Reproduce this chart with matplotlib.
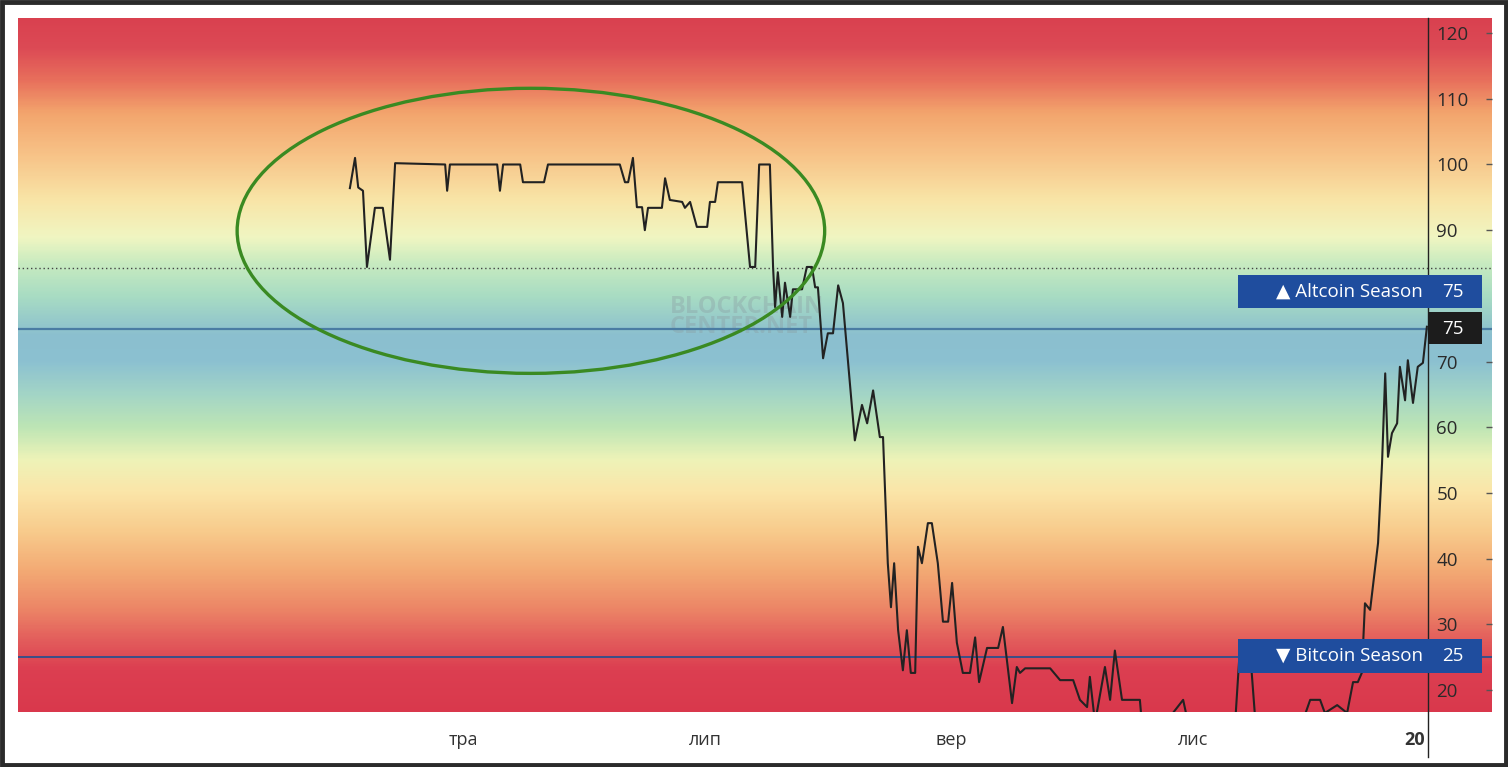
import numpy as np
import matplotlib
matplotlib.use("Agg")
import matplotlib.pyplot as plt
import matplotlib.dates as mdates
from matplotlib.colors import LinearSegmentedColormap
from matplotlib.patches import Ellipse, Rectangle
import datetime as dt

plt.rcParams['font.family'] = ['Open Sans', 'DejaVu Sans']

base = dt.datetime(2019, 5, 1)
# day offsets from 2019-05-01 and index values
days = [-28.5, -27.2, -26.4, -25.2, -24.2, -22.2, -20.2, -18.4, -17.1, -4.5, -4, -3.3, 8.6, 9.3, 10.1,
        14.4, 15.1, 20.4, 21.4, 39.5, 40.8, 41.6, 42.8, 43.8, 45.1, 45.8, 46.6, 50.1, 50.9, 52.1, 55.2,
        55.9, 57.2, 58.9, 61.5, 62.2, 63.5, 64.2, 70.3, 72.3, 73.6, 74.6, 77.3, 78.1, 78.6, 79.3, 80.4,
        81.1, 82.4, 83.1, 85.4, 86.6, 87.9, 88.7, 89.4, 90.7, 91.9, 93.2, 94.5, 95.7, 97, 98.7, 100.5,
        101.8, 103.3, 105, 105.8, 107, 107.8, 108.6, 109.6, 110.8, 111.8, 112.8, 113.9, 114.6, 115.6,
        117.1, 118.1, 119.6, 120.9, 122.2, 123.2, 124.4, 125.9, 127.7, 129, 130, 132, 134.8, 136, 138.3,
        139.5, 140.3, 141.6, 147.9, 150.4, 153.7, 155.4, 157.2, 157.9, 159.2, 161.7, 163, 164.2, 166,
        170.5, 171, 175.6, 181.4, 183, 194.5, 195.7, 198.2, 199.5, 202, 210.8, 213.4, 215.9, 217.1,
        220.2, 222.7, 224.2, 225.4, 226.4, 227.2, 228.5, 230.5, 231.5, 232.3, 233, 234, 235.3, 236,
        237.3, 238, 239.3, 240.5, 241.8, 242.8]
values = [96.4, 101, 96.5, 96, 84.4, 93.4, 93.4, 85.5, 100.2, 100, 96, 100, 100, 96, 100,
          100, 97.3, 97.3, 100, 100, 97.3, 97.3, 101, 93.5, 93.5, 90, 93.4, 93.4, 97.9, 94.6, 94.3,
          93.4, 94.3, 90.5, 90.5, 94.3, 94.3, 97.3, 97.3, 84.4, 84.4, 100, 100, 84.4, 78.3, 83.6, 76.8,
          82, 76.8, 81, 81, 84.4, 84.4, 81.3, 81.3, 70.5, 74.3, 74.3, 81.6, 78.9, 69.8, 58, 63.4,
          60.6, 65.6, 58.5, 58.5, 39.3, 32.6, 39.3, 29.1, 23, 29.1, 22.6, 22.6, 41.8, 39.3,
          45.4, 45.4, 39.3, 30.4, 30.4, 36.3, 27.2, 22.6, 22.6, 28, 21.2, 26.4, 26.4, 29.6, 18,
          23.5, 22.6, 23.3, 23.3, 21.5, 21.5, 18.5, 17.4, 22, 15, 23.5, 18.5, 26, 18.5,
          18.5, 15, 14, 18.5, 14, 15, 26.4, 26.4, 16, 14, 14, 18.5, 18.5, 16.5,
          17.7, 16.5, 21.2, 21.2, 22.6, 33.2, 32.2, 42.4, 54.5, 68.2, 55.5, 59.1, 60.6, 69.2,
          64.1, 70.2, 63.7, 69.2, 69.8, 75.3]
month_days = [0, 61, 123, 184, 239.8]
month_labels = ['тра', 'лип', 'вер', 'лис', '20']
yticks = [20, 30, 40, 50, 60, 70, 90, 100, 110, 120]

dates = [base + dt.timedelta(days=d) for d in days]
W, H = 1508, 767
fig = plt.figure(figsize=(W/100, H/100), dpi=100)
fig.patch.set_facecolor('white')
ax = fig.add_axes([18/W, 55/H, 1474/W, 694/H])

ylo, yhi = 16.65, 122.3
x0 = mdates.date2num(base + dt.timedelta(days=-112.1))
x1 = mdates.date2num(base + dt.timedelta(days=259.2))

stops = [(16, '#d9384c'), (23, '#dc3f51'), (27, '#e25a5b'), (32, '#ec8466'), (38, '#f3aa74'),
         (44, '#f8cb8c'), (50, '#fbe5a8'), (55, '#eef3b8'), (60, '#bde5b5'), (65, '#a3d5c6'),
         (70, '#8cc1d1'), (74, '#8bbfcf'), (80, '#a8dcc3'), (85, '#c8ebc0'), (89, '#f0f6c2'),
         (95, '#f9e4a6'), (102, '#f7c186'), (108, '#f3a56d'), (113, '#e8705c'), (118, '#dc4a55'),
         (123, '#d9404f')]
cmap = LinearSegmentedColormap.from_list('bg', [((v-16)/(123-16), c) for v, c in stops])
grad = np.linspace(16, 123, 600).reshape(-1, 1)
ax.imshow(grad, cmap=cmap, vmin=16, vmax=123, aspect='auto', origin='lower',
          extent=[x0, x1, 16, 123], interpolation='bicubic', zorder=0)

ax.axhline(75, color='#4a7ca3', lw=1.6, zorder=2)
ax.axhline(25, color='#2e4f8c', lw=1.3, zorder=2)
ax.axhline(84.2, color='#444444', lw=1.0, ls=(0, (1, 2)), zorder=2)

ax.text(mdates.date2num(base + dt.timedelta(days=52)), 76.8, 'BLOCKCHAIN\nCENTER.NET',
        fontsize=17, color='#8a9aa0', alpha=0.35, fontweight='bold', ha='left', va='center',
        linespacing=0.8, zorder=1)

ax.plot(dates, values, color='#222222', lw=1.5, zorder=3)

ell = Ellipse((mdates.date2num(base + dt.timedelta(days=17.1)), 89.9), 148, 43.4,
              fill=False, edgecolor='#3a8a22', lw=2.4, zorder=4)
ax.add_patch(ell)

xv = mdates.date2num(base + dt.timedelta(days=243.1))
ax.axvline(xv, color='#222222', lw=1.0, zorder=5, clip_on=False, ymin=-0.065, ymax=1)

ax.set_xlim(x0, x1)
ax.set_ylim(ylo, yhi)
ax.set_xticks([mdates.date2num(base + dt.timedelta(days=d)) for d in month_days])
ax.set_xticklabels(month_labels, fontsize=13, color='#333333')
ax.get_xticklabels()[-1].set_fontweight('bold')
ax.tick_params(axis='x', length=0, pad=14)
ax.yaxis.tick_right()
ax.set_yticks(yticks)
ax.set_yticklabels([str(t) for t in yticks], fontsize=13.5, color='#2a2a2a')
ax.tick_params(axis='y', direction='in', length=4, color='#555555', pad=-40, width=1)
for lab in ax.get_yticklabels():
    lab.set_horizontalalignment('left')
for s in ax.spines.values():
    s.set_visible(False)

tr = ax.get_yaxis_transform()
ax.add_patch(Rectangle((1238/1474 - 18/1474, 78.1), (1482-1238)/1474, 5.1, transform=tr,
                       facecolor='#1f4d9e', edgecolor='none', zorder=6))
ax.add_patch(Rectangle((1238/1474 - 18/1474, 22.6), (1482-1238)/1474, 5.1, transform=tr,
                       facecolor='#1f4d9e', edgecolor='none', zorder=6))
ax.add_patch(Rectangle(((1428-18)/1474, 72.6), (1482-1428)/1474, 4.9, transform=tr,
                       facecolor='#1c1c1c', edgecolor='none', zorder=6))
ax.text((1423-18)/1474, 80.6, '▲ Altcoin Season', transform=tr, color='white', fontsize=13.5,
        ha='right', va='center', zorder=7)
ax.text((1423-18)/1474, 25.2, '▼ Bitcoin Season', transform=tr, color='white', fontsize=13.5,
        ha='right', va='center', zorder=7)
for yv in (80.6, 75, 25.2):
    ax.text((1442-18)/1474, yv, '75' if yv > 50 else '25', transform=tr, color='white',
            fontsize=13.5, ha='left', va='center', zorder=7)

fig.add_artist(Rectangle((0.001, 0.002), 0.998, 0.996, transform=fig.transFigure, fill=False,
                         edgecolor='#2b2b2b', lw=3.5))
fig.savefig('out.png', dpi=100)
